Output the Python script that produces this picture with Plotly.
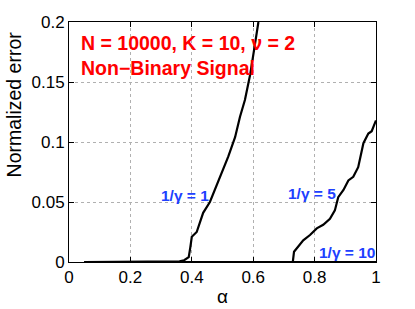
import plotly.graph_objects as go

# Curve 1/gamma = 1
alpha_g1 = [0.05, 0.30, 0.36, 0.375, 0.39, 0.395, 0.400, 0.416, 0.437, 0.459, 0.470,
            0.486, 0.497, 0.519, 0.541, 0.557, 0.573, 0.590, 0.603, 0.617]
err_g1 = [0.0, 0.0, 0.0005, 0.0015, 0.004, 0.012, 0.021, 0.025, 0.041, 0.050, 0.057,
          0.068, 0.074, 0.088, 0.104, 0.121, 0.135, 0.156, 0.177, 0.2]

# Curve 1/gamma = 5
alpha_g5 = [0.05, 0.72, 0.729, 0.733, 0.747, 0.763, 0.785, 0.807, 0.828, 0.850, 0.866,
            0.877, 0.894, 0.910, 0.926, 0.942, 0.959, 0.975, 0.986, 1.0]
err_g5 = [0.0, 0.0, 0.0, 0.0086, 0.0128, 0.018, 0.0225, 0.028, 0.031, 0.036, 0.043,
          0.054, 0.060, 0.068, 0.071, 0.079, 0.099, 0.107, 0.109, 0.118]

# Curve 1/gamma = 10
alpha_g10 = [0.05, 1.0]
err_g10 = [0.0, 0.0]

x_ticks = [0, 0.2, 0.4, 0.6, 0.8, 1]
x_ticklabels = ["0", "0.2", "0.4", "0.6", "0.8", "1"]
y_ticks = [0, 0.05, 0.1, 0.15, 0.2]
y_ticklabels = ["0", "0.05", "0.1", "0.15", "0.2"]

fig = go.Figure()
for xs, ys in [(alpha_g10, err_g10), (alpha_g5, err_g5), (alpha_g1, err_g1)]:
    fig.add_trace(go.Scatter(x=xs, y=ys, mode="lines",
                             line=dict(color="black", width=2.2),
                             showlegend=False, hoverinfo="skip"))

red = "#ff0000"
blue = "#2040ff"
fnt = "Liberation Sans, Arial, Helvetica, sans-serif"
annots = [
    dict(x=0.033, y=0.1825, text="<b>N = 10000, K = 10, ν = 2</b>", color=red, size=19.5, xanchor="left"),
    dict(x=0.033, y=0.1617, text="<b>Non−Binary Signal</b>", color=red, size=19.5, xanchor="left"),
    dict(x=0.378, y=0.0558, text="<b>1/γ = 1</b>", color=blue, size=15.5, xanchor="center"),
    dict(x=0.79, y=0.0575, text="<b>1/γ = 5</b>", color=blue, size=15.5, xanchor="center"),
    dict(x=0.904, y=0.0078, text="<b>1/γ = 10</b>", color=blue, size=15.5, xanchor="center"),
]
for a in annots:
    fig.add_annotation(x=a["x"], y=a["y"], xref="x", yref="y", text=a["text"],
                       showarrow=False, xanchor=a["xanchor"], yanchor="middle",
                       font=dict(family=fnt, size=a["size"], color=a["color"]))

# y-axis label (placed like the reference, above the axis centre)
fig.add_annotation(x=-0.178, y=0.658, xref="paper", yref="paper", text="Normalized error",
                   textangle=-90, showarrow=False, xanchor="center", yanchor="middle",
                   font=dict(family=fnt, size=19.5, color="black"))

axis_common = dict(showline=True, linecolor="black", linewidth=1, mirror="allticks",
                   ticks="inside", ticklen=5, tickcolor="black", automargin=False,
                   showgrid=True, gridcolor="#b0b0b0", griddash="dot", gridwidth=1,
                   zeroline=False, tickfont=dict(family=fnt, size=17, color="black"))

fig.update_xaxes(range=[0, 1], tickvals=x_ticks, ticktext=x_ticklabels,
                 title=dict(text="α", font=dict(family=fnt, size=19, color="black"), standoff=3),
                 **axis_common)
fig.update_yaxes(range=[0, 0.2], tickvals=y_ticks, ticktext=y_ticklabels, **axis_common)

fig.update_layout(width=415, height=309, margin=dict(l=69, r=39, t=22, b=47),
                  paper_bgcolor="white", plot_bgcolor="white")

# remove the browser's default 8px page margin so the figure fills the window
fig.write_html("out.html", config={"displayModeBar": False},
               post_script="document.body.style.margin='0';")
